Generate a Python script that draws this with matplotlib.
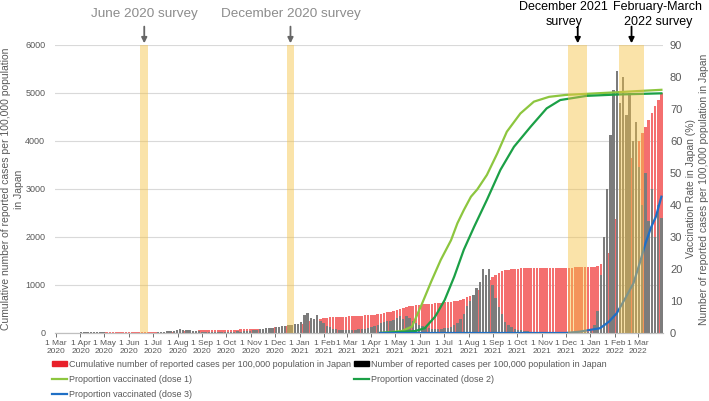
import matplotlib
matplotlib.use("Agg")
import matplotlib.pyplot as plt
import matplotlib.dates as mdates
import matplotlib.ticker as mticker
from matplotlib.patches import Patch
from matplotlib.lines import Line2D
import pandas as pd

plt.rcParams['font.family'] = ['Liberation Sans', 'DejaVu Sans']

# ── data ──
# bars every 4 days from 1 Mar 2020
bar_dates = pd.date_range("2020-03-01", periods=191, freq="4D")
tick_dates = pd.date_range("2020-03-01", "2022-03-01", freq="MS")

# cumulative reported cases per 100,000 (left axis)
cumulative = [
    0.2, 0.3, 0.4, 0.5, 0.7, 0.9, 1.2, 1.6,            # Mar 2020
    2.0, 3.0, 4.2, 5.8, 7.4, 8.8, 10, 11,              # Apr
    11.8, 12.3, 12.6, 12.8, 13, 13.1, 13.2,            # May
    13.4, 13.5, 13.7, 13.8, 14, 14.3, 14.6, 15,        # Jun
    15.5, 16.3, 17.4, 19, 21, 23.5, 26, 29,            # Jul
    33, 37, 41, 44.5, 47.5, 50, 52.5,                  # Aug
    54.5, 56, 58, 59.5, 61, 62.5, 64, 65.5,            # Sep
    67, 69, 70.5, 72.5, 74.5, 76.5, 78.5, 81,          # Oct
    82, 85, 89, 93, 99, 105, 112,                      # Nov
    119, 126, 133, 141, 150, 159, 170, 183,            # Dec
    197, 215, 237, 257, 274, 289, 301, 311,            # Jan 2021
    318, 324, 329, 333, 337, 340, 343,                 # Feb
    346, 350, 354, 358, 362, 366, 372,                 # Mar
    377, 384, 392, 402, 414, 428, 443, 460,            # Apr
    478, 497, 517, 537, 555, 570, 580, 588,            # May
    594, 601, 608, 614, 620, 625, 630,                 # Jun
    636, 642, 650, 660, 672, 688, 708, 740,            # Jul
    765, 800, 845, 900, 960, 1030, 1100, 1170,         # Aug
    1215, 1255, 1285, 1305, 1318, 1328, 1336,          # Sep
    1342, 1346, 1349, 1352, 1354, 1356, 1357, 1358,    # Oct
    1359, 1360, 1360, 1361, 1362, 1362, 1363,          # Nov
    1363, 1364, 1364, 1365, 1366, 1367, 1368, 1370,    # Dec
    1372, 1378, 1395, 1440, 1530, 1670, 1870, 2120,    # Jan 2022
    2380, 2660, 2930, 3180, 3420, 3640, 3830,          # Feb
    3990, 4160, 4300, 4440, 4590, 4720, 4860, 5000,    # Mar
]

# reported cases per 100,000 (right axis)
daily = [
    0.02, 0.02, 0.03, 0.03, 0.04, 0.05, 0.08, 0.15,    # Mar 2020
    0.2, 0.3, 0.35, 0.45, 0.4, 0.3, 0.25, 0.2,         # Apr
    0.15, 0.08, 0.06, 0.03, 0.03, 0.02, 0.03,          # May
    0.03, 0.04, 0.03, 0.05, 0.05, 0.08, 0.1, 0.1,      # Jun
    0.15, 0.2, 0.3, 0.4, 0.5, 0.6, 0.7, 0.9,           # Jul
    1.1, 1.0, 0.9, 0.8, 0.7, 0.6, 0.5,                 # Aug
    0.45, 0.4, 0.45, 0.4, 0.4, 0.35, 0.45, 0.4,        # Sep
    0.45, 0.45, 0.4, 0.5, 0.45, 0.5, 0.55, 0.7,        # Oct
    0.8, 0.9, 1.1, 1.3, 1.6, 1.7, 1.7,                 # Nov
    1.8, 2.0, 2.1, 2.3, 2.4, 2.6, 2.9, 2.8,            # Dec
    3.5, 5.5, 6.2, 4.8, 4.5, 5.5, 3.6, 3.0,            # Jan 2021
    2.2, 1.8, 1.4, 1.1, 1.0, 0.9, 0.8,                 # Feb
    0.9, 0.9, 1.0, 1.1, 1.2, 1.3, 1.5,                 # Mar
    2.0, 2.3, 2.6, 3.0, 3.4, 3.6, 3.8, 4.0,            # Apr
    4.6, 5.2, 4.5, 5.4, 4.6, 3.8, 3.2, 2.6,            # May
    2.2, 1.8, 1.5, 1.3, 1.3, 1.2, 1.4,                 # Jun
    1.5, 1.7, 2.0, 2.5, 3.0, 4.5, 6.0, 8.5,            # Jul
    10, 12, 14, 16, 20, 18, 20, 15,                    # Aug
    11, 8, 6, 3.5, 2.5, 1.8, 1.3,                      # Sep
    1.0, 0.8, 0.6, 0.5, 0.4, 0.3, 0.25, 0.2,           # Oct
    0.15, 0.15, 0.12, 0.12, 0.1, 0.1, 0.1,             # Nov
    0.1, 0.1, 0.12, 0.15, 0.15, 0.2, 0.25, 0.4,        # Dec
    0.5, 2.5, 7, 18, 30, 45, 62, 76,                   # Jan 2022
    82, 72, 80, 68, 75, 60, 66,                        # Feb
    52, 40, 50, 35, 45, 30, 40, 36,                    # Mar
]

# vaccination (% of population)
dose1_dates = ["2021-04-12", "2021-05-09", "2021-05-22", "2021-06-03", "2021-06-15",
               "2021-06-27", "2021-07-10", "2021-07-18", "2021-07-26", "2021-08-04",
               "2021-08-12", "2021-08-24", "2021-09-06", "2021-09-18", "2021-10-05",
               "2021-10-22", "2021-11-10", "2021-12-01", "2022-01-01", "2022-02-01",
               "2022-03-01", "2022-03-31"]
dose1 = [0, 0.6, 2.0, 8.8, 16, 22.8, 29, 34.3, 38.4, 42.6,
         44.9, 49.4, 56.1, 62.9, 68.6, 72.3, 73.8, 74.4, 74.8, 75.2, 75.6, 76]

dose2_dates = ["2021-04-12", "2021-05-26", "2021-06-07", "2021-06-20", "2021-07-02",
               "2021-07-14", "2021-07-26", "2021-08-08", "2021-08-24", "2021-09-10",
               "2021-09-27", "2021-10-18", "2021-11-07", "2021-11-24", "2021-12-27",
               "2022-02-01", "2022-03-31"]
dose2 = [0, 0.6, 1.5, 5.1, 10.3, 17.6, 26, 33.2, 41.6, 51, 58.2, 64.5,
         70.2, 72.8, 74.1, 74.5, 74.9]

dose3_dates = ["2021-04-12", "2021-12-01", "2021-12-18", "2022-01-06", "2022-01-13",
               "2022-01-24", "2022-02-03", "2022-02-14", "2022-02-24", "2022-03-04",
               "2022-03-11", "2022-03-18", "2022-03-24", "2022-03-31"]
dose3 = [0, 0, 0.4, 1.2, 1.5, 3.5, 6.2, 11, 15.6, 22, 28, 33, 36.3, 42.6]

surveys = [("June 2020 survey", "2020-06-15", "2020-06-25"),
           ("December 2020 survey", "2020-12-16", "2020-12-25"),
           ("December 2021\nsurvey", "2021-12-04", "2021-12-28"),
           ("February-March\n2022 survey", "2022-02-06", "2022-03-09")]

# ── style ──
RED = "#F46F6F"
GREY = "#7C7C7C"
C_DOSE1 = "#8DC63F"
C_DOSE2 = "#1BA046"
C_DOSE3 = "#1F6FC5"
BAND = "#F5C242"
TXT = "#595959"

fig = plt.figure(figsize=(7.09, 4.01), dpi=100)
ax = fig.add_axes([55 / 709, 1 - 333 / 401, 608 / 709, 288 / 401])
ax2 = ax.twinx()

ax.bar(bar_dates, cumulative, width=3.3, color=RED, zorder=2)
ax2.bar(bar_dates, daily, width=3.0, color=GREY, zorder=2)

ax2.plot(pd.to_datetime(dose1_dates), dose1, color=C_DOSE1, lw=1.6, zorder=3)
ax2.plot(pd.to_datetime(dose2_dates), dose2, color=C_DOSE2, lw=1.6, zorder=3)
ax2.plot(pd.to_datetime(dose3_dates), dose3, color=C_DOSE3, lw=1.6, zorder=3)

xform = ax2.get_xaxis_transform()
for label, start, end in surveys:
    s, e = pd.Timestamp(start), pd.Timestamp(end)
    mid = mdates.date2num(s + (e - s) / 2)
    ax2.axvspan(s, e, color=BAND, alpha=0.45, lw=0, zorder=5)
    black = "2020" not in label
    col = "black" if black else "#666666"
    ax2.annotate("", xy=(mid, 1.006), xycoords=xform, xytext=(0, 12),
                 textcoords="offset points", annotation_clip=False,
                 arrowprops=dict(arrowstyle="-|>", color=col, lw=1.3,
                                 mutation_scale=8, shrinkA=0, shrinkB=0))
    if black:
        dx = -10 if label.startswith("December") else 19
        ax2.annotate(label, xy=(mid, 1.0), xycoords=xform, xytext=(dx, 22),
                     textcoords="offset points", ha="center", va="center",
                     fontsize=9, color="black", linespacing=1.3,
                     annotation_clip=False)
    else:
        ax2.annotate(label, xy=(mid, 1.0), xycoords=xform, xytext=(0, 22),
                     textcoords="offset points", ha="center", va="center",
                     fontsize=9.7, color="#8C8C8C", annotation_clip=False)

ax.set_xlim(pd.Timestamp("2020-02-29"), pd.Timestamp("2022-04-02"))
ax.set_ylim(0, 6000)
ax2.set_ylim(0, 90)
ax.yaxis.set_major_locator(mticker.MultipleLocator(1000))
ax2.yaxis.set_major_locator(mticker.MultipleLocator(10))

ax.set_xticks(tick_dates)
ax.set_xticklabels([f"1 {d:%b}\n{d:%Y}" for d in tick_dates])
ax.tick_params(axis="x", labelsize=6, colors=TXT, length=3, width=0.6, pad=2)
ax.tick_params(axis="y", labelsize=6.5, colors=TXT, length=0, pad=7)
ax2.tick_params(axis="y", labelsize=8, colors=TXT, length=0, pad=5)

ax.grid(axis="y", color="#D9D9D9", lw=0.8, zorder=0)
ax.set_axisbelow(True)
for a in (ax, ax2):
    for s in ("top", "left", "right"):
        a.spines[s].set_visible(False)
    a.spines["bottom"].set_color("#BFBFBF")

ax.set_ylabel("Cumulative number of reported cases per 100,000 population\nin Japan",
              fontsize=7.5, color=TXT, labelpad=1, linespacing=1.3)
ax2.set_ylabel("Vaccination Rate in Japan (%)\n"
               "Number of reported cases per 100,000 population in Japan",
               fontsize=7.5, color=TXT, labelpad=3, linespacing=1.3)

handles = [Patch(color="#E8202A"),
           Line2D([], [], color=C_DOSE1, lw=1.6),
           Line2D([], [], color=C_DOSE3, lw=1.6),
           Patch(color="black"),
           Line2D([], [], color=C_DOSE2, lw=1.6)]
labels = ["Cumulative number of reported cases per 100,000 population in Japan",
          "Proportion vaccinated (dose 1)",
          "Proportion vaccinated (dose 3)",
          "Number of reported cases per 100,000 population in Japan",
          "Proportion vaccinated (dose 2)"]
fig.legend(handles, labels, loc="upper left", bbox_to_anchor=(52 / 709, 1 - 360 / 401),
           ncol=2, frameon=False, fontsize=6.5, handlelength=1.7, handleheight=0.5,
           handletextpad=0.15, columnspacing=0.35, labelspacing=0.65,
           borderaxespad=0, borderpad=0, labelcolor=TXT)

fig.savefig("out.png", dpi=100, facecolor="white")
